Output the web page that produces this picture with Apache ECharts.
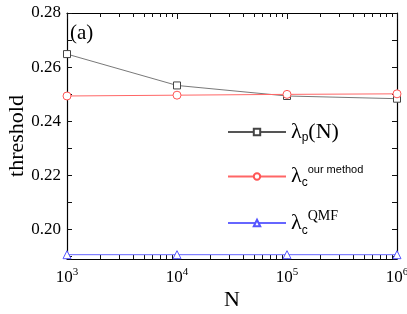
<!DOCTYPE html>
<html><head><meta charset="utf-8">
<script src="https://cdn.jsdelivr.net/npm/echarts@6/dist/echarts.min.js"></script>
<style>html,body{margin:0;padding:0;background:#fff}#c{width:407px;height:314px}</style>
</head><body><div id="c"></div>
<script>
const Ns = [1000, 10000, 100000, 1000000];
const lambdaP = [0.2648, 0.2532, 0.2493, 0.2483];
const lambdaOur = [0.2493, 0.2496, 0.2499, 0.2501];
const lambdaQMF = [0.1906, 0.1906, 0.1906, 0.1906];
const xMajor = [1000, 10000, 100000, 1000000];
const yLabels = [0.20, 0.22, 0.24, 0.26, 0.28];
const yTicks = [0.19, 0.20, 0.21, 0.22, 0.23, 0.24, 0.25, 0.26, 0.27, 0.28];

const xMinor = [];
[1000, 10000, 100000].forEach(b => { for (let k = 2; k <= 9; k++) xMinor.push(b * k); });

const serif = "'Liberation Serif', 'Times New Roman', serif";
const chart = echarts.init(document.getElementById('c'));
const pts = a => Ns.map((n, i) => [n, a[i]]);
const tick = (len, vals) => ({show: true, inside: true, length: len, customValues: vals, lineStyle: {color: '#111', width: 1}});
const axLine = () => ({show: true, lineStyle: {color: '#000', width: 1.2}});
chart.setOption({
  animation: false,
  grid: {left: 67, right: 10, top: 13, bottom: 55, containLabel: false, outerBoundsMode: 'none'},
  xAxis: [{
    type: 'log', min: 1000, max: 1000000, position: 'bottom', splitLine: {show: false},
    name: 'N', nameLocation: 'middle', nameGap: 30, nameMoveOverlap: false,
    nameTextStyle: {fontFamily: serif, fontSize: 22, color: '#000'},
    axisLine: axLine(),
    axisTick: tick(6, xMajor),
    axisLabel: {
      margin: 8, fontFamily: serif, fontSize: 17, color: '#000',
      customValues: xMajor, hideOverlap: false,
      formatter: v => '{b|10}{e|' + Math.round(Math.log10(v)) + '}',
      rich: {b: {fontFamily: serif, fontSize: 17, color: '#000'},
             e: {fontFamily: serif, fontSize: 11, color: '#000', verticalAlign: 'top', padding: [0,0,10,0]}}
    }
  }, {
    type: 'log', min: 1000, max: 1000000, position: 'bottom', splitLine: {show: false},
    axisLine: {show: false}, axisTick: tick(4, xMinor), axisLabel: {show: false}
  }, {
    type: 'log', min: 1000, max: 1000000, position: 'top', splitLine: {show: false},
    axisLine: axLine(), axisTick: tick(6, xMajor), axisLabel: {show: false}
  }, {
    type: 'log', min: 1000, max: 1000000, position: 'top', splitLine: {show: false},
    axisLine: {show: false}, axisTick: tick(4, xMinor), axisLabel: {show: false}
  }],
  yAxis: [{
    type: 'value', min: 0.189, max: 0.28, position: 'left', splitLine: {show: false},
    name: 'threshold', nameLocation: 'middle', nameGap: 39, nameMoveOverlap: false,
    nameTextStyle: {fontFamily: serif, fontSize: 22, color: '#000'},
    axisLine: axLine(), axisTick: tick(5, yTicks),
    axisLabel: {
      margin: 6, fontFamily: serif, fontSize: 17, color: '#000',
      customValues: yLabels, formatter: v => v.toFixed(2)
    }
  }, {
    type: 'value', min: 0.189, max: 0.28, position: 'right', splitLine: {show: false},
    axisLine: axLine(), axisTick: tick(5, yTicks), axisLabel: {show: false}
  }],
  legend: {
    orient: 'vertical', left: 222, top: 116, itemGap: 20,
    itemWidth: 58, itemHeight: 8,
    data: ['p', 'our', 'qmf'],
    formatter: n => {
      if (n === 'p') return '{l|λ}{s|p}{l|(N)}';
      if (n === 'our') return '{l|λ}{s|c}{t|our method}';
      return '{l|λ}{s|c}{q|QMF}';
    },
    textStyle: {
      fontFamily: serif,
      rich: {
        l: {fontFamily: serif, fontSize: 22, color: '#000'},
        s: {fontFamily: "'Liberation Sans', Arial, sans-serif", fontSize: 12, color: '#000', verticalAlign: 'bottom', padding: [12,0,0,0]},
        t: {fontFamily: "'Liberation Sans', Arial, sans-serif", fontSize: 11, color: '#000', verticalAlign: 'top', padding: [0,0,14,0]},
        q: {fontFamily: serif, fontSize: 14, color: '#000', verticalAlign: 'top', padding: [0,0,14,0]}
      }
    }
  },
  graphic: [{type: 'text', left: 70, top: 23, style: {text: '(a)', font: "21px 'Liberation Serif'", fill: '#000'}}],
  series: [
    {name: 'p', type: 'line', data: pts(lambdaP), symbol: 'rect', symbolSize: 7, xAxisIndex: 0, yAxisIndex: 0,
     itemStyle: {color: '#fff', borderColor: '#444', borderWidth: 1},
     lineStyle: {color: '#555', width: 0.8}},
    {name: 'our', type: 'line', data: pts(lambdaOur), symbol: 'circle', symbolSize: 8, xAxisIndex: 0, yAxisIndex: 0,
     itemStyle: {color: '#fff', borderColor: '#f55', borderWidth: 1},
     lineStyle: {color: '#f66', width: 1}},
    {name: 'qmf', type: 'line', data: pts(lambdaQMF), symbol: 'triangle', symbolSize: 8, xAxisIndex: 0, yAxisIndex: 0,
     itemStyle: {color: '#fff', borderColor: '#55f', borderWidth: 1},
     lineStyle: {color: '#66f', width: 1}}
  ]
});
</script></body></html>
